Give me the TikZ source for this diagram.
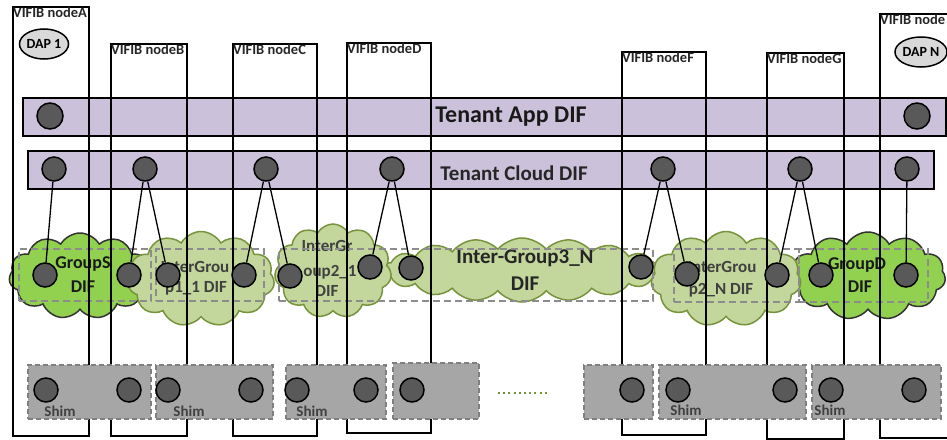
\documentclass[tikz,border=0pt]{standalone}
\usepackage{fontspec}
\setmainfont{Carlito}
\usetikzlibrary{shapes.symbols,shapes.geometric}
\definecolor{barfill}{HTML}{CCC1DA}
\definecolor{dotfill}{HTML}{595959}
\definecolor{shimfill}{HTML}{A6A6A6}
\definecolor{shimedge}{HTML}{7F7F7F}
\definecolor{boxedge}{HTML}{8C8C8C}
\definecolor{cloudbright}{HTML}{92D050}
\definecolor{cloudlight}{HTML}{C3D69B}
\definecolor{cloudedge}{HTML}{77933C}
\definecolor{dapfill}{HTML}{D9D9D9}
\definecolor{softtext}{HTML}{404040}
\newcommand\setfs[1]{\fontsize{#1}{#1}\selectfont}
\begin{document}
\begin{tikzpicture}[x=1pt,y=-1pt,
  vnode/.style={draw=black, line width=2pt, inner sep=0, anchor=north west},
  vlabel/.style={anchor=north west, inner sep=1pt, font=\setfs{14.5}\bfseries, text=black!85},
  bar/.style={draw=black, line width=2pt, fill=barfill, inner sep=0, anchor=north west},
  dot/.style={circle, draw=black, line width=1.5pt, fill=dotfill, minimum size=24pt, inner sep=0},
  link/.style={line width=1.3pt, draw=black},
  shimbox/.style={draw=shimedge, dash pattern=on 5pt off 3pt, line width=2pt, fill=shimfill, anchor=north west, inner sep=0},
  shimlabel/.style={font=\setfs{15}\bfseries, text=black!75, inner sep=0},
  groupbox/.style={draw=boxedge, dash pattern=on 7pt off 4pt, line width=2pt, anchor=north west, inner sep=0},
  darkcloud/.style={cloud, draw=black!80, fill=cloudbright, line width=1.5pt, cloud ignores aspect, cloud puffs=11, cloud puff arc=120, inner sep=0},
  lightcloud/.style={cloud, draw=cloudedge, fill=cloudlight, line width=1.5pt, cloud ignores aspect, cloud puffs=11, cloud puff arc=120, inner sep=0},
  darklabel/.style={font=\setfs{18}\bfseries, text=black!90, inner sep=0},
  lightlabel/.style={font=\setfs{17}\bfseries, text=softtext, inner sep=0},
  dap/.style={ellipse, draw=black, line width=1.5pt, fill=dapfill, minimum width=45pt, minimum height=30pt, inner sep=0, font=\setfs{14}\bfseries}
]
\useasboundingbox (0,0) rectangle (947,439);

% DIF bars
\node[bar, minimum width=923pt, minimum height=38pt] (appbar) at (22,97) {};
\node[bar, minimum width=906pt, minimum height=38pt] (cloudbar) at (27,150) {};

% group clouds
\node[darkcloud, minimum width=142pt, minimum height=86pt] (cS) at (80,276) {};
\node[darkcloud, minimum width=155pt, minimum height=88pt] (cD) at (868,276) {};
\node[lightcloud, cloud puffs=18, cloud puff arc=100, minimum width=278pt, minimum height=64pt] (c3N) at (522,270) {};
\node[lightcloud, minimum width=147pt, minimum height=95pt] (c11) at (201,279) {};
\node[lightcloud, minimum width=117pt, minimum height=94pt] (c21) at (333,271) {};
\node[lightcloud, minimum width=150pt, minimum height=95pt] (c2N) at (726,279) {};

% cloud captions
\node[darklabel] (tS1) at (83,264) {GroupS};
\node[darklabel] (tS2) at (83,287) {DIF};
\node[lightlabel] (t111) at (195,267) {InterGrou};
\node[lightlabel] (t112) at (196,288) {p1\_1 DIF};
\node[lightlabel] (t211) at (327,246) {InterGr};
\node[lightlabel] (t212) at (330,272) {oup2\_1};
\node[lightlabel] (t213) at (327,291) {DIF};
\node[font=\setfs{21}\bfseries, text=black!85, inner sep=0] (t3N1) at (525,258) {Inter-Group3\_N};
\node[font=\setfs{21}\bfseries, text=black!85, inner sep=0] (t3N2) at (525,284) {DIF};
\node[lightlabel] (t2N1) at (722,267) {InterGrou};
\node[lightlabel] (t2N2) at (721,290) {p2\_N DIF};
\node[darklabel] (tD1) at (857,265) {GroupD};
\node[darklabel] (tD2) at (860,287) {DIF};

% dashed group frames
\node[groupbox, minimum width=132pt, minimum height=52pt] (bS) at (18,248) {};
\node[groupbox, minimum width=108pt, minimum height=52pt] (b11) at (155,248) {};
\node[groupbox, minimum width=374pt, minimum height=52pt] (b3N) at (278,248) {};
\node[groupbox, minimum width=125pt, minimum height=53pt] (b2N) at (673,248) {};
\node[groupbox, minimum width=129pt, minimum height=53pt] (bD) at (798,248) {};

% VIFIB nodes
\node[vnode, minimum width=76pt, minimum height=429pt] (nA) at (12,6) {};
\node[vnode, minimum width=76pt, minimum height=392pt] (nB) at (110,43) {};
\node[vnode, minimum width=84pt, minimum height=392pt] (nC) at (232,43) {};
\node[vnode, minimum width=84pt, minimum height=390pt] (nD) at (346,42) {};
\node[vnode, minimum width=84pt, minimum height=383pt] (nF) at (621,51) {};
\node[vnode, minimum width=77pt, minimum height=386pt] (nG) at (766,52) {};
\node[vnode, minimum width=90pt, minimum height=424pt] (nH) at (879,13) {};
\node[vlabel] (lA) at (nA.north west) {VIFIB nodeA};
\node[vlabel] (lB) at (nB.north west) {VIFIB nodeB};
\node[vlabel] (lC) at (nC.north west) {VIFIB nodeC};
\node[vlabel] (lD) at (nD.north west) {VIFIB nodeD};
\node[vlabel] (lF) at (nF.north west) {VIFIB nodeF};
\node[vlabel] (lG) at (nG.north west) {VIFIB nodeG};
\node[vlabel] (lH) at (nH.north west) {VIFIB node};
\node[dap] (dap1) at (44,44) {DAP 1};
\node[dap] (dapN) at (921,52) {DAP N};

% shim layers
\node[shimbox, minimum width=123pt, minimum height=54pt] (sh1) at (27,364) {};
\node[shimbox, minimum width=117pt, minimum height=54pt] (sh2) at (155,364) {};
\node[shimbox, minimum width=100pt, minimum height=54pt] (sh3) at (285,364) {};
\node[shimbox, minimum width=86pt, minimum height=56pt] (sh4) at (392,362) {};
\node[shimbox, minimum width=69pt, minimum height=54pt] (sh5) at (583,364) {};
\node[shimbox, minimum width=147pt, minimum height=54pt] (sh6) at (658,364) {};
\node[shimbox, minimum width=129pt, minimum height=54pt] (sh7) at (811,364) {};
\node[shimlabel] (ls1) at (60,411) {Shim};
\node[shimlabel] (ls2) at (189,411) {Shim};
\node[shimlabel] (ls3) at (312,411) {Shim};
\node[shimlabel] (ls6) at (686,410) {Shim};
\node[shimlabel] (ls7) at (830,410) {Shim};
\coordinate (ell1) at (498,393);
\coordinate (ell2) at (550,393);
\draw[cloudedge, line width=2.5pt, dash pattern=on 2pt off 3.2pt] (ell1) -- (ell2);

% DAPs in the DIF bars
\node[dot, minimum size=26pt] (a1) at (50,116) {};
\node[dot, minimum size=26pt] (a2) at (917,116) {};
\node[dot] (c1) at (54,169) {};
\node[dot] (c2) at (145,169) {};
\node[dot] (c3) at (266,169) {};
\node[dot] (c4) at (392,169) {};
\node[dot] (c5) at (663,169) {};
\node[dot] (c6) at (800,169) {};
\node[dot] (c7) at (907,169) {};
% DAPs in the group DIFs
\node[dot] (g1) at (45,275) {};
\node[dot] (g2) at (129,275) {};
\node[dot] (g3) at (168,275) {};
\node[dot] (g4) at (244,275) {};
\node[dot] (g5) at (290,276) {};
\node[dot] (g6) at (370,267) {};
\node[dot] (g7) at (411,268) {};
\node[dot] (g8) at (641,267) {};
\node[dot] (g9) at (687,274) {};
\node[dot] (g10) at (777,275) {};
\node[dot] (g11) at (821,275) {};
\node[dot] (g12) at (906,275) {};
% DAPs in the shims
\node[dot] (s1) at (46,390) {};
\node[dot] (s2) at (129,390) {};
\node[dot] (s3) at (168,390) {};
\node[dot] (s4) at (251,390) {};
\node[dot] (s5) at (297,390) {};
\node[dot] (s6) at (366,390) {};
\node[dot] (s7) at (412,390) {};
\node[dot] (s8) at (632,390) {};
\node[dot] (s9) at (678,390) {};
\node[dot] (s10) at (785,390) {};
\node[dot] (s11) at (831,390) {};
\node[dot] (s12) at (914,390) {};

% bindings between the cloud DIF and the group DIFs
\draw[link] (c1) -- (g1);
\draw[link] (c2) -- (g2);
\draw[link] (c2) -- (g3);
\draw[link] (c3) -- (g4);
\draw[link] (c3) -- (g5);
\draw[link] (c4) -- (g6);
\draw[link] (c4) -- (g7);
\draw[link] (c5) -- (g8);
\draw[link] (c5) -- (g9);
\draw[link] (c6) -- (g10);
\draw[link] (c6) -- (g11);
\draw[link] (c7) -- (g12);

% bar captions
\node[font=\setfs{24}\bfseries, text=black!90, inner sep=0] (tapp) at (511,117) {Tenant App DIF};
\node[font=\setfs{21}\bfseries, text=black!85, inner sep=0] (tcloud) at (514,173) {Tenant Cloud DIF};
\end{tikzpicture}
\end{document}
